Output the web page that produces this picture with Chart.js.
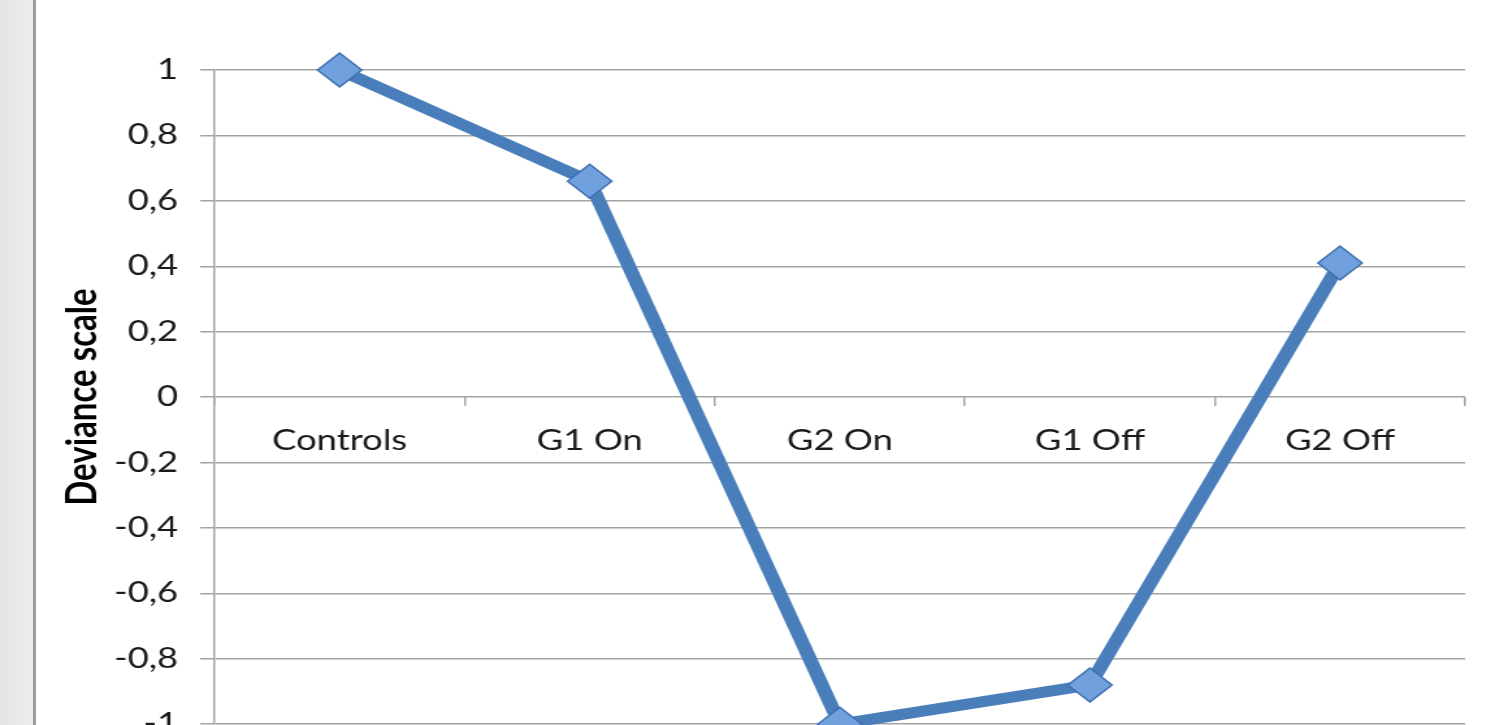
<!DOCTYPE html>
<html>
<head>
<meta charset="utf-8">
<script src="https://cdn.jsdelivr.net/npm/chart.js@4"></script>
<style>
  html, body { margin: 0; padding: 0; background: #fff; overflow: hidden; }
  #wrap { position: absolute; left: 0; top: 0; width: 1156px; height: 758px; transform: scaleX(1.3); transform-origin: 0 0; }
  #strip { position: absolute; left: 0; top: 0; width: 33px; height: 725px; background: linear-gradient(90deg, #e4e4e4, #ececec); border-right: 3px solid #9c9c9c; }
</style>
</head>
<body>
<div id="wrap"><canvas id="chartDeviance"></canvas></div>
<div id="strip"></div>
<script>
const categories = ["Controls", "G1 On", "G2 On", "G1 Off", "G2 Off"];
const deviance = [1, 0.66, -1, -0.88, 0.41];
const yMin = -1;
const yMax = 1;
const yStep = 0.2;

const gridColor = "#a3a3a3";
Chart.defaults.font.family = "Lato, sans-serif";
Chart.defaults.color = "#1a1a1a";

const canvas = document.getElementById("chartDeviance");
window.chartDeviance = new Chart(canvas, {
    type: "line",
    data: {
        labels: categories,
        datasets: [{
            label: "Deviance",
            data: deviance,
            borderColor: "#4a7ebb",
            borderWidth: 11,
            pointStyle: "rectRot",
            pointRadius: 17,
            pointBackgroundColor: "#71a0de",
            pointBorderColor: "#3f6fae",
            pointBorderWidth: 1.5,
            tension: 0,
            clip: false
        }]
    },
    options: {
        responsive: true,
        maintainAspectRatio: false,
        animation: false,
        layout: { padding: { top: 70, left: 44, right: 29, bottom: 0 } },
        plugins: { legend: { display: false }, tooltip: { enabled: false } },
        scales: {
            x: {
                type: "category",
                position: { y: 0 },
                offset: true,
                grid: {
                    offset: true,
                    drawOnChartArea: false,
                    drawTicks: true,
                    tickLength: 9,
                    color: gridColor,
                    lineWidth: 1.5
                },
                border: { display: false },
                ticks: { font: { size: 28 }, padding: 18, maxRotation: 0 }
            },
            y: {
                min: yMin,
                max: yMax,
                afterFit: scale => { scale.width = 121; },
                grid: { color: gridColor, lineWidth: 1.5, tickLength: 11 },
                border: { color: gridColor, width: 1.5 },
                ticks: {
                    stepSize: yStep,
                    font: { size: 28 },
                    padding: 17,
                    callback: v => String(Math.round(v * 10) / 10).replace(".", ",")
                },
                title: {
                    display: true,
                    text: "Deviance scale",
                    font: { size: 33, weight: "bold" },
                    padding: 0,
                    color: "#000"
                }
            }
        }
    }
});
</script>
</body>
</html>
